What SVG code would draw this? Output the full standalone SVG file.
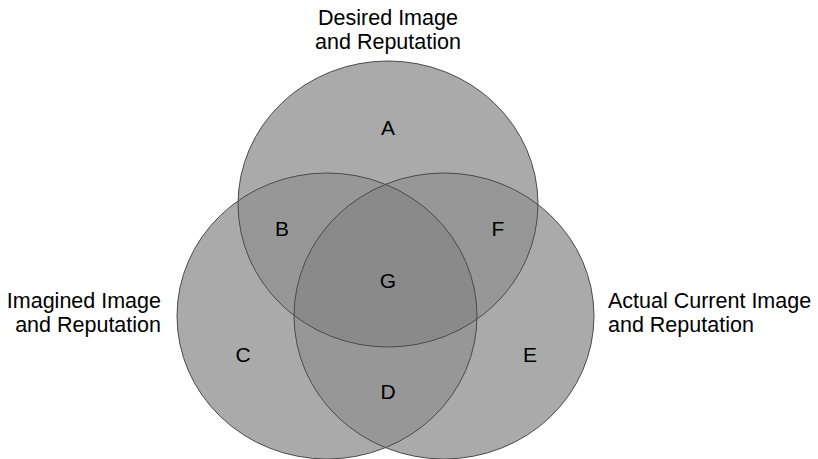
<svg xmlns="http://www.w3.org/2000/svg" width="818" height="459" viewBox="0 0 818 459">
<style>
text{font-family:"Liberation Sans",Arial,Helvetica,sans-serif;fill:#000;}
.t{font-size:21.5px;}
.l{font-size:21px;text-anchor:middle;}
.e{stroke:#4a4a4a;stroke-width:1;fill:none;}
</style>
<defs>
<clipPath id="cTop"><ellipse cx="388" cy="204" rx="150" ry="143"/></clipPath>
<clipPath id="cLeft"><ellipse cx="327" cy="316" rx="150" ry="143"/></clipPath>
<clipPath id="cRight"><ellipse cx="444" cy="316" rx="150" ry="143"/></clipPath>
</defs>
<rect width="818" height="459" fill="#fff"/>
<g id="fills">
<ellipse cx="388" cy="204" rx="150" ry="143" fill="#aaaaaa"/>
<ellipse cx="327" cy="316" rx="150" ry="143" fill="#aaaaaa"/>
<ellipse cx="444" cy="316" rx="150" ry="143" fill="#aaaaaa"/>
<g clip-path="url(#cTop)">
<ellipse cx="327" cy="316" rx="150" ry="143" fill="#979797"/>
<ellipse cx="444" cy="316" rx="150" ry="143" fill="#979797"/>
</g>
<g clip-path="url(#cLeft)">
<ellipse cx="444" cy="316" rx="150" ry="143" fill="#979797"/>
</g>
<g clip-path="url(#cTop)"><g clip-path="url(#cLeft)">
<ellipse cx="444" cy="316" rx="150" ry="143" fill="#8a8a8a"/>
</g></g>
</g>
<g id="desired">
<ellipse class="e" cx="388" cy="204" rx="150" ry="143"/>
<text class="t" x="388" y="25" text-anchor="middle">Desired Image</text>
<text class="t" x="388" y="49" text-anchor="middle">and Reputation</text>
</g>
<g id="imagined">
<ellipse class="e" cx="327" cy="316" rx="150" ry="143"/>
<text class="t" x="161" y="308" text-anchor="end">Imagined Image</text>
<text class="t" x="161" y="332" text-anchor="end">and Reputation</text>
</g>
<g id="actual">
<ellipse class="e" cx="444" cy="316" rx="150" ry="143"/>
<text class="t" x="608" y="308">Actual Current Image</text>
<text class="t" x="608" y="332">and Reputation</text>
</g>
<g id="regions">
<text class="l" x="388" y="135">A</text>
<text class="l" x="282" y="236">B</text>
<text class="l" x="243" y="362">C</text>
<text class="l" x="388" y="399">D</text>
<text class="l" x="530" y="362">E</text>
<text class="l" x="498" y="236">F</text>
<text class="l" x="388" y="288">G</text>
</g>
<g id="connectors"></g>
</svg>
